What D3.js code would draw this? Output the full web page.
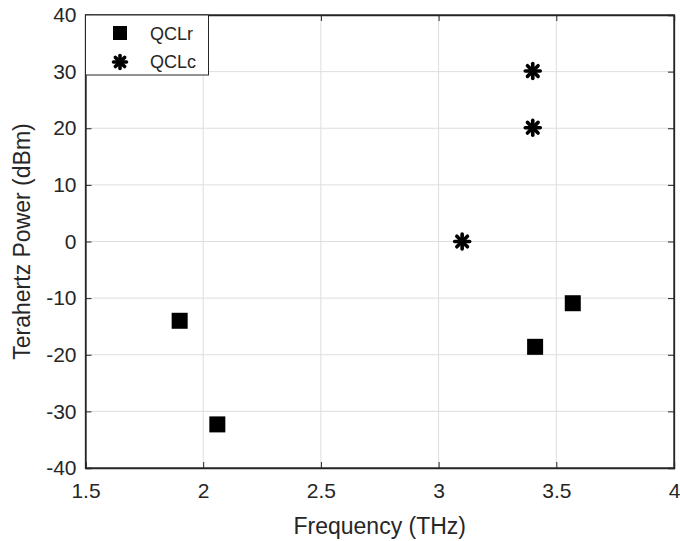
<!DOCTYPE html>
<html><head><meta charset="utf-8">
<script src="https://cdn.jsdelivr.net/npm/d3@7"></script>
<style>body{margin:0;background:#fff}svg{display:block}text{font-family:"Liberation Sans",Arial,sans-serif;fill:#262626}</style>
</head><body><svg id="c" width="680" height="541"></svg>
<script>
const xTicks = [1.5, 2, 2.5, 3, 3.5, 4];
const yTicks = [-40, -30, -20, -10, 0, 10, 20, 30, 40];
const qclrFreq = [1.90, 2.06, 3.41, 3.57];
const qclrPower = [-14.0, -32.3, -18.6, -10.9];
const qclcFreq = [3.10, 3.40, 3.40];
const qclcPower = [0, 20.1, 30.1];
const seriesNames = ["QCLr", "QCLc"];

const svg = d3.select("#c");
const L = 85.5, R = 674, T = 15, B = 468;
const x = d3.scaleLinear().domain([1.5, 4]).range([L, R]);
const y = d3.scaleLinear().domain([-40, 40]).range([B, T]);

// grid
const g = svg.append("g");
g.selectAll(".gx").data(xTicks).enter().append("line")
  .attr("x1", d => x(d)).attr("x2", d => x(d)).attr("y1", T).attr("y2", B)
  .attr("stroke", "#dedede").attr("stroke-width", 1);
g.selectAll(".gy").data(yTicks).enter().append("line")
  .attr("y1", d => y(d)).attr("y2", d => y(d)).attr("x1", L).attr("x2", R)
  .attr("stroke", "#dedede").attr("stroke-width", 1);

const fmt = d => String(d);
// axes
const ax = svg.append("g").attr("transform", `translate(0,${B})`)
  .call(d3.axisBottom(x).tickValues(xTicks).tickSize(-6).tickPadding(15).tickFormat(fmt));
const ay = svg.append("g").attr("transform", `translate(${L},0)`)
  .call(d3.axisLeft(y).tickValues(yTicks).tickSize(-6).tickPadding(9).tickFormat(fmt));
const axT = svg.append("g").attr("transform", `translate(0,${T})`)
  .call(d3.axisTop(x).tickValues(xTicks).tickSize(-6).tickFormat(""));
const ayR = svg.append("g").attr("transform", `translate(${R},0)`)
  .call(d3.axisRight(y).tickValues(yTicks).tickSize(-6).tickFormat(""));
[ax, ay, axT, ayR].forEach(a => {
  a.selectAll("path").attr("stroke", "#262626").attr("stroke-width", 1.3);
  a.selectAll("line").attr("stroke", "#262626").attr("stroke-width", 1);
  a.selectAll("text").attr("font-size", 21).attr("fill", "#262626")
    .style("font-family", '"Liberation Sans",Arial,sans-serif');
});
svg.append("rect").attr("x", L).attr("y", T).attr("width", R - L).attr("height", B - T)
  .attr("fill", "none").attr("stroke", "#262626").attr("stroke-width", 1.3);

// labels
svg.append("text").attr("x", (L + R) / 2).attr("y", 534).attr("text-anchor", "middle")
  .attr("font-size", 23).text("Frequency (THz)");
svg.append("text").attr("transform", `translate(30,${(T + B) / 2}) rotate(-90)`)
  .attr("text-anchor", "middle").attr("font-size", 23).text("Terahertz Power (dBm)");

// markers
function square(sel, cx, cy, s) {
  sel.append("rect").attr("x", cx - s / 2).attr("y", cy - s / 2).attr("width", s).attr("height", s).attr("fill", "#000");
}
function star(sel, cx, cy, r) {
  const gg = sel.append("g").attr("transform", `translate(${cx},${cy})`);
  for (let i = 0; i < 4; i++) {
    const a = i * Math.PI / 4;
    gg.append("line").attr("x1", -r * Math.cos(a)).attr("y1", -r * Math.sin(a))
      .attr("x2", r * Math.cos(a)).attr("y2", r * Math.sin(a))
      .attr("stroke", "#000").attr("stroke-width", 3.6).attr("stroke-linecap", "round");
  }
}
const pts = svg.append("g");
qclrFreq.forEach((f, i) => square(pts, x(f), y(qclrPower[i]), 16));
qclcFreq.forEach((f, i) => star(pts, x(f), y(qclcPower[i]), 7.5));

// legend
const lg = svg.append("g");
lg.append("rect").attr("x", L).attr("y", T).attr("width", 123).attr("height", 60)
  .attr("fill", "#fff").attr("stroke", "#262626").attr("stroke-width", 1);
square(lg, 120, 33, 14);
star(lg, 120, 62, 6.5);
seriesNames.forEach((n, i) => lg.append("text").attr("x", 150).attr("y", 40 + i * 28)
  .attr("font-size", 18).text(n));
</script></body></html>
